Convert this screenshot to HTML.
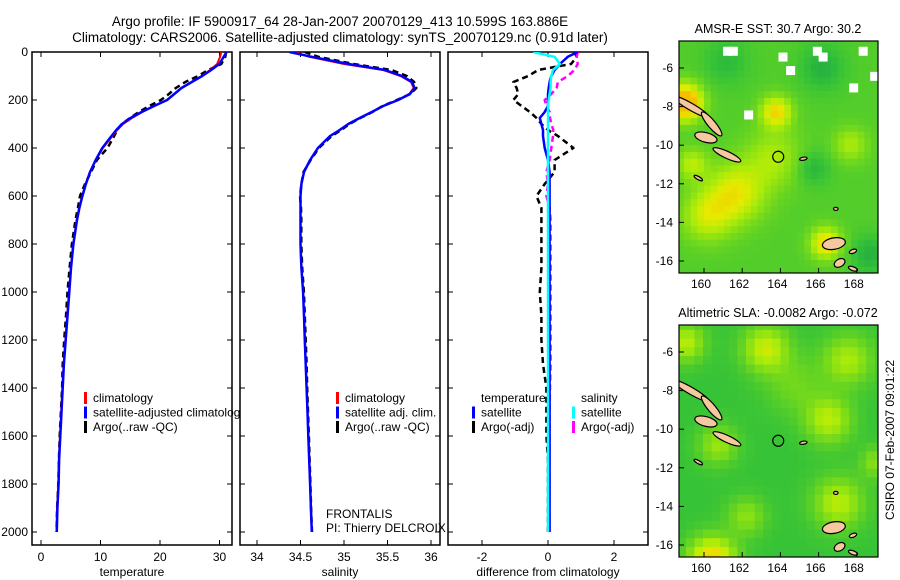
<!DOCTYPE html>
<html><head><meta charset="utf-8"><style>
body{margin:0;background:#fff;}
svg{display:block;font-family:"Liberation Sans",sans-serif;}
text{fill:#000;}
</style></head><body>
<svg id="fig" width="900" height="580" viewBox="0 0 900 580" xmlns="http://www.w3.org/2000/svg">
<defs>
<clipPath id="c1"><rect x="32" y="52" width="200" height="493"/></clipPath>
<clipPath id="c2"><rect x="240" y="52" width="200" height="493"/></clipPath>
<clipPath id="c3"><rect x="448" y="52" width="200" height="493"/></clipPath>
<clipPath id="cm1"><rect x="679" y="41" width="199" height="232"/></clipPath>
<clipPath id="cm2"><rect x="679" y="325" width="199" height="232"/></clipPath>
</defs>
<text x="340" y="26" font-size="13.5" text-anchor="middle">Argo profile: IF 5900917_64 28-Jan-2007 20070129_413 10.599S 163.886E</text>
<text x="340" y="42" font-size="13.5" text-anchor="middle">Climatology: CARS2006. Satellite-adjusted climatology: synTS_20070129.nc (0.91d later)</text>
<g id="p1"></g>
<g id="p2"></g>
<g id="p3"></g>
<g id="m1"></g>
<g id="m2"></g>
<text x="0" y="0" font-size="12" text-anchor="middle" transform="translate(894,440) rotate(-90)">CSIRO 07-Feb-2007 09:01:22</text>
</svg>
<script>
const depths=[0,20,50,75,100,125,150,175,200,225,250,275,300,325,350,400,450,500,550,600,650,700,800,900,1000,1100,1200,1300,1400,1500,1600,1700,1800,1900,2000];
const climT=[30.3,30.1,29.6,28.4,27.0,25.3,23.6,22.4,21.2,19.0,17.0,15.3,13.8,12.8,12.0,10.4,9.2,8.2,7.5,6.9,6.4,6.0,5.4,5.0,4.7,4.4,4.1,3.8,3.6,3.4,3.2,3.0,2.9,2.7,2.6];
const satDiffT=[0.9,0.6,0.36,0.2,0.1,0.05,0.02,0,0,0,-0.1,-0.25,-0.2,-0.15,-0.15,-0.1,0,0.05,0.05,0.05,0.05,0.05,0.05,0.05,0.05,0.05,0.05,0.05,0.05,0.05,0.05,0.05,0.05,0.05,0.05];
const argoDiffT=[0.8,0.87,0.7,-0.3,-0.6,-1.05,-0.95,-0.9,-1.05,-0.8,-0.55,-0.35,-0.2,0,0.3,0.77,0.2,0.2,-0.1,-0.35,-0.2,-0.2,-0.2,-0.2,-0.25,-0.2,-0.2,-0.15,-0.05,-0.05,-0.05,0,0,0,0];
const climS=[34.44,34.6,35.0,35.45,35.65,35.77,35.8,35.75,35.62,35.45,35.32,35.18,35.05,34.95,34.84,34.7,34.61,34.54,34.51,34.5,34.5,34.5,34.5,34.51,34.53,34.54,34.55,34.56,34.57,34.58,34.59,34.6,34.61,34.62,34.63];
const satDiffS=[-0.45,0.2,0.36,0.15,0.1,0.08,0.08,0.05,0.02,0,0,0,0,0,0,0,0,0,0,0,0,0,0,0,0,0,0,0,0,0,0,0,0,0,0];
const argoDiffS=[0.9,0.87,0.9,0.8,0.6,0.3,0.26,0.1,-0.1,-0.05,0.05,0.06,0.1,0.16,0.15,0.1,0.05,-0.05,0,-0.05,0.05,0.08,0.08,0.08,0.08,0.08,0.08,0.08,0.06,0.05,0.05,0.04,0.03,0.02,0.02];
const depthTicks=[0,200,400,600,800,1000,1200,1400,1600,1800,2000];
const tTicks=[0,10,20,30], sTicks=[34,34.5,35,35.5,36], dTicks=[-2,0,2];
const latTicks=[-6,-8,-10,-12,-14,-16], lonTicks=[160,162,164,166,168];

const NS='http://www.w3.org/2000/svg';
function mk(tag,attrs,parent){const e=document.createElementNS(NS,tag);for(const k in attrs)e.setAttribute(k,attrs[k]);parent.appendChild(e);return e;}
const yD=d=>52+d*0.24;
const xT=t=>41+t*5.95, xS=s=>257+(s-34)*87, xDf=v=>548+v*33;

function panel(g,x0,clip,ticks,xf,tickFmt,xlabel,showY){
  const r=mk('rect',{x:x0,y:52,width:200,height:493,fill:'#fff',stroke:'#000','stroke-width':1.5},g);
  
  ticks.forEach(t=>{const x=xf(t);
    const a=mk('line',{x1:x,x2:x,y1:52,y2:57,stroke:'#000'},g);
    const b=mk('line',{x1:x,x2:x,y1:540,y2:545,stroke:'#000'},g);
    const l=mk('text',{x:x,y:561,'font-size':12,'text-anchor':'middle'},g);l.textContent=tickFmt(t);
    });
  depthTicks.forEach(d=>{const y=yD(d);
    const a=mk('line',{x1:x0,x2:x0+5,y1:y,y2:y,stroke:'#000'},g);
    const b=mk('line',{x1:x0+195,x2:x0+200,y1:y,y2:y,stroke:'#000'},g);
    if(showY){const l=mk('text',{x:28,y:y+4,'font-size':12,'text-anchor':'end'},g);l.textContent=d;
      }});
  const xl=mk('text',{x:x0+100,y:576,'font-size':12,'text-anchor':'middle'},g);xl.textContent=xlabel;
  
}
function line(g,vals,xf,color,w,dash,clip,name){
  const pts=vals.map((v,i)=>xf(v).toFixed(1)+','+yD(depths[i]).toFixed(1)).join(' ');
  const a={points:pts,fill:'none',stroke:color,'stroke-width':w,'clip-path':'url(#'+clip+')','stroke-linejoin':'round'};
  if(dash)a['stroke-dasharray']=dash;
  const p=mk('polyline',a,g);
}
function legend(g,x,y,items){items.forEach((it,i)=>{const yy=y+i*14.5;
  const m=mk('rect',{x:x,y:yy-10,width:3,height:12,fill:it[1]},g);
  const t=mk('text',{x:x+9,y:yy,'font-size':12},g);t.textContent=it[0];});}

const p1=document.getElementById('p1'),p2=document.getElementById('p2'),p3=document.getElementById('p3');
panel(p1,32,'c1',tTicks,xT,t=>t,'temperature',true);
panel(p2,240,'c2',sTicks,xS,t=>t,'salinity',false);
panel(p3,448,'c3',dTicks,xDf,t=>t,'difference from climatology',false);

const satT=climT.map((v,i)=>v+satDiffT[i]), argoT=climT.map((v,i)=>v+argoDiffT[i]);
const satS=climS.map((v,i)=>v+satDiffS[i]*0.15), argoS=climS.map((v,i)=>v+argoDiffS[i]*0.12);
line(p1,argoT,xT,'#000',2.5,'6,4','c1','argo-temperature-line');
line(p1,climT,xT,'#f00',2,null,'c1','climatology-temperature-line');
line(p1,satT,xT,'#00f',2.5,null,'c1','satellite-temperature-line');
line(p2,argoS,xS,'#000',2.5,'6,4','c2','argo-salinity-line');
line(p2,climS,xS,'#f00',2,null,'c2','climatology-salinity-line');
line(p2,satS,xS,'#00f',2.5,null,'c2','satellite-salinity-line');
line(p3,argoDiffT,xDf,'#000',2.5,'6,4','c3','argo-temperature-diff-line');
line(p3,argoDiffS,xDf,'#f0f',2.5,'6,4','c3','argo-salinity-diff-line');
line(p3,satDiffT,xDf,'#00f',2.5,null,'c3','satellite-temperature-diff-line');
line(p3,satDiffS,xDf,'#0ff',2.5,null,'c3','satellite-salinity-diff-line');

legend(p1,84,402,[['climatology','#f00'],['satellite-adjusted climatology','#00f'],['Argo(..raw -QC)','#000']]);
legend(p2,336,402,[['climatology','#f00'],['satellite adj. clim.','#00f'],['Argo(..raw -QC)','#000']]);
const lt=mk('text',{x:481,y:402,'font-size':12},p3);lt.textContent='temperature';
const ls=mk('text',{x:581,y:402,'font-size':12},p3);ls.textContent='salinity';
legend(p3,472,416.5,[['satellite','#00f'],['Argo(-adj)','#000']]);
legend(p3,572,416.5,[['satellite','#0ff'],['Argo(-adj)','#f0f']]);
const f1=mk('text',{x:326,y:518,'font-size':12},p2);f1.textContent='FRONTALIS';
const f2=mk('text',{x:326,y:532,'font-size':12},p2);f2.textContent='PI: Thierry DELCROIX';
p1.parentNode.insertBefore(p2,p3);

// ----- maps -----
const sstBlobs=[[158.8,-7.6,1.0,0.9],[163.6,-8.1,0.6,0.8],[161.5,-12.3,0.5,1.5],[160,-13.5,0.4,1.3],[166.2,-14.9,0.6,0.8],[167.5,-9.8,0.3,0.9],[163.5,-10.5,0.3,1.5],[159.2,-10.8,0.35,0.8],[166,-5.8,-0.2,1.2],[161,-5.5,-0.15,1.2],[165.5,-11,-0.2,0.9],[168.5,-15.5,-0.2,1.0]];
const slaBlobs=[[158.8,-5.3,0.45,1.0],[163,-5.6,0.5,1.2],[167.3,-6.2,0.4,1.3],[166.3,-9.3,0.45,1.2],[160.5,-10.6,0.35,1.0],[166.8,-13.6,0.45,1.3],[160.2,-16.6,0.8,1.2],[168.8,-11.5,0.3,0.8],[162,-14.3,0.3,1.0],[164.5,-7.5,0.2,1.5]];
const whiteCells=[[161.0,-4.9],[161.3,-4.9],[165.7,-4.9],[166.0,-5.2],[164.3,-5.9],[168.7,-6.2],[167.6,-6.8],[162.1,-8.2],[163.9,-5.2],[168.1,-4.9]];
const ramp=[[20,160,70],[55,195,55],[110,215,30],[170,235,10],[230,235,0],[245,190,0]];
function col(v){v=Math.max(0,Math.min(0.999,v))*(ramp.length-1);const i=Math.floor(v),f=v-i,a=ramp[i],b=ramp[i+1];
  return 'rgb('+a.map((c,k)=>Math.round(c+(b[k]-c)*f)).join(',')+')';}
function drawMap(g,top,blobs,base,cell,clip,title,whites){
  const lx=lon=>704+(lon-160)*19.1, ly=lat=>top+27+(-6-lat)*19.3;
  const bg=mk('g',{'clip-path':'url(#'+clip+')'},g);
  for(let lon=158.6;lon<169.2;lon+=cell){for(let lat=-4.4;lat>-16.8;lat-=cell){
    let v=base;blobs.forEach(b=>{const dx=(lon-b[0])/b[3],dy=(lat-b[1])/b[3];v+=b[2]*Math.exp(-(dx*dx+dy*dy));});
    const r=mk('rect',{x:lx(lon).toFixed(1),y:ly(lat).toFixed(1),width:(cell*19.1+0.6).toFixed(1),height:(cell*19.3+0.6).toFixed(1),fill:col(v)},bg);
    }}
  whites.forEach(w=>{const r=mk('rect',{x:lx(w[0]),y:ly(w[1]),width:9,height:9,fill:'#fff'},bg);});
  const isl=[[159.3,-8.0,1.1,0.18,30],[160.4,-8.9,0.8,0.2,50],[160.1,-9.6,0.6,0.25,15],[161.2,-10.5,0.8,0.18,25],[159.7,-11.7,0.25,0.08,30],[166.8,-15.1,0.3,0.6,80],[167.1,-16.1,0.2,0.3,60],[167.8,-15.5,0.2,0.1,-20],[167.8,-16.4,0.25,0.1,20],[165.2,-10.7,0.2,0.08,-10],[166.9,-13.3,0.12,0.08,0]];
  isl.forEach(s=>{const e=mk('ellipse',{cx:lx(s[0]),cy:ly(s[1]),rx:s[2]*19.1,ry:s[3]*19.3,fill:'#f5c8a0',stroke:'#000','stroke-width':1.2,transform:'rotate('+s[4]+' '+lx(s[0])+' '+ly(s[1])+')'},bg);
    });
  const c=mk('circle',{cx:lx(163.886),cy:ly(-10.599),r:5.5,fill:'none',stroke:'#000','stroke-width':1.2},g);
  const fr=mk('rect',{x:679,y:top,width:199,height:232,fill:'none',stroke:'#000','stroke-width':1.2},g);
  latTicks.forEach(la=>{const y=ly(la);const t=mk('line',{x1:679,x2:684,y1:y,y2:y,stroke:'#000'},g);
    const l=mk('text',{x:673,y:y+4,'font-size':12,'text-anchor':'end'},g);l.textContent=la;});
  lonTicks.forEach(lo=>{const x=lx(lo);const t=mk('line',{x1:x,x2:x,y1:top+227,y2:top+232,stroke:'#000'},g);
    const l=mk('text',{x:x-3,y:top+247,'font-size':12,'text-anchor':'middle'},g);l.textContent=lo;});
  const tt=mk('text',{x:778,y:top-8,'font-size':12.5,'text-anchor':'middle'},g);tt.textContent=title;
}
drawMap(document.getElementById('m1'),41,sstBlobs,0.3,0.35,'cm1','AMSR-E SST: 30.7 Argo: 30.2',whiteCells);
drawMap(document.getElementById('m2'),325,slaBlobs,0.2,0.45,'cm2','Altimetric SLA: -0.0082 Argo: -0.072',[]);
</script>
</body></html>
